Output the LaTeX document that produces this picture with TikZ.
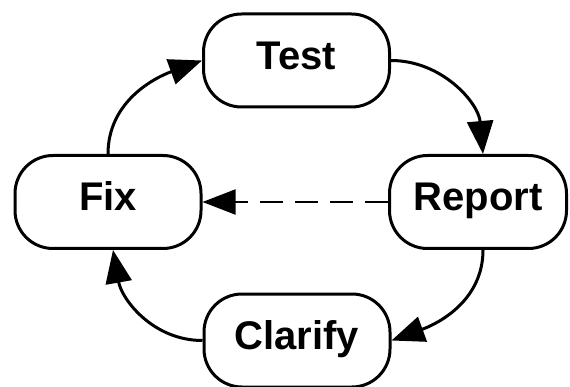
\documentclass[tikz,border=0pt]{standalone}
\usepackage{fontspec}
\setmainfont{Liberation Sans}
\usetikzlibrary{arrows.meta}
\tikzset{
  stagebox/.style={draw=black, line width=3pt, rectangle, rounded corners=38pt,
    minimum width=186pt, minimum height=93pt, inner sep=0pt,
    font=\fontsize{40}{48}\selectfont\bfseries, text height=29pt, text depth=11pt},
  flow/.style={line width=3pt, -{Triangle[length=33pt,width=26pt]}},
  feedback/.style={line width=2pt, dash pattern=on 23pt off 12pt,
    -{Triangle[length=33pt,width=25pt]}}
}
\begin{document}
\begin{tikzpicture}[x=1pt,y=1pt]
  \useasboundingbox (0,0) rectangle (570,-387);
  \node[stagebox] (test) at (296.5,-60.5) {Test};
  \node[stagebox] (fix) at (108,-202) {Fix};
  \node[stagebox, minimum width=177pt] (report) at (478,-202) {Report};
  \node[stagebox] (clarify) at (297,-340.5) {Clarify};

  \draw[flow] (fix.north) to[out=90, in=200] (test.west);
  \draw[flow] (test.east) to[out=0, in=95] ([xshift=5pt]report.north);
  \draw[flow] ([xshift=5pt]report.south) to[out=-90, in=20] (clarify.east);
  \draw[flow] (clarify.west) to[out=180, in=-80] ([xshift=5pt]fix.south);
  \draw[feedback] (report.west) -- (fix.east);
\end{tikzpicture}
\end{document}
